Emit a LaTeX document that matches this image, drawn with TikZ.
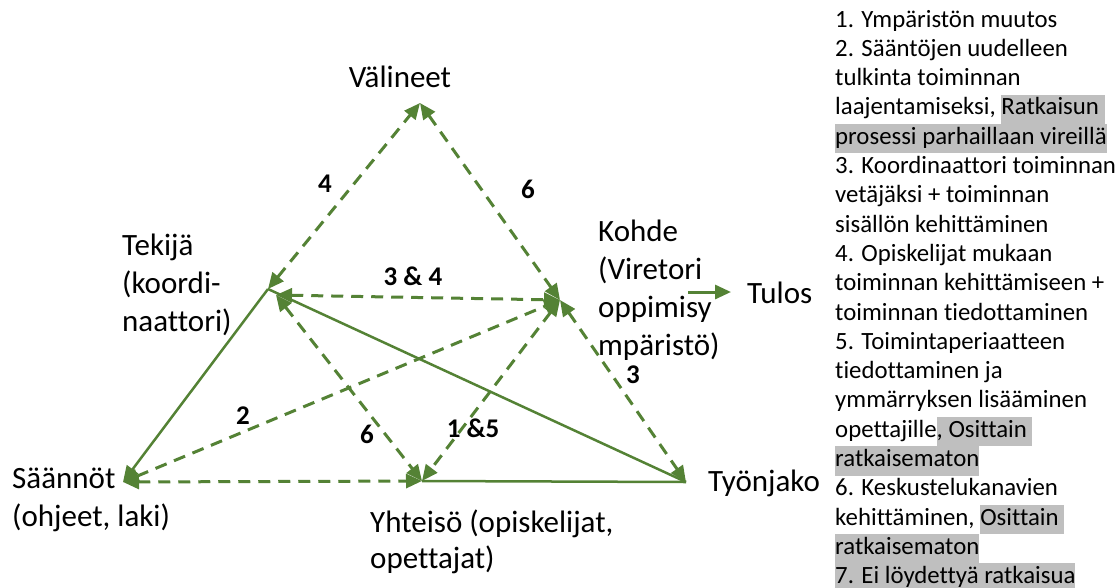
\documentclass[tikz,border=0pt]{standalone}
\usepackage{fontspec}
\setmainfont{Carlito}[Ligatures=NoCommon]
\usetikzlibrary{arrows.meta}
\definecolor{linegreen}{RGB}{84,130,53}
\definecolor{hlgray}{RGB}{191,191,191}
% grey marker behind a piece of text, one full line high
\newcommand{\hlt}[1]{{\setlength{\fboxsep}{0pt}\colorbox{hlgray}{\rule[-9pt]{0pt}{29.3pt}#1}}}
\begin{document}
\begin{tikzpicture}[x=1pt, y=-1pt,
  >={Triangle[length=16pt,width=14pt]},
  edge/.style={draw=linegreen, line width=2.5pt},
  link/.style={draw=linegreen, line width=3pt, dash pattern=on 12pt off 8pt, <->},
  lab/.style={font=\fontsize{31}{38}\selectfont, inner sep=0pt},
  num/.style={font=\fontsize{27}{32}\selectfont\bfseries, inner sep=0pt, anchor=base},
  legend/.style={font=\fontsize{24.8}{29.3}\selectfont, inner sep=0pt, anchor=base west}]
\useasboundingbox (0,0) rectangle (1116,587);

% corners of the activity system
\coordinate (V) at (420,103);
\coordinate (T) at (268,289);
\coordinate (Ta) at (276,295);
\coordinate (K) at (560,300);
\coordinate (S) at (123,482);
\coordinate (Y) at (422,481);
\coordinate (W) at (686,482);
\coordinate (out) at (688,292);
\coordinate (res) at (731,292);

% solid sides
\draw[edge, ->] (T) -- (S);
\draw[edge] (T) -- (W);
\draw[edge] (Y) -- (W);
\draw[edge, line width=3pt, ->] (out) -- (res);

% tensions between the corners
\draw[link] (T) -- (V);
\draw[link] (V) -- (K);
\draw[link] (Ta) -- (K);
\draw[link] (S) -- (K);
\draw[link] (Ta) -- (Y);
\draw[link] (K) -- (Y);
\draw[link] (K) -- (W);
\draw[link] (S) -- (Y);

% corner labels
\node[lab, anchor=base] (valineet) at (400,87) {Välineet};
\node[lab, align=left, anchor=north west] (tekija) at (122,229)
  {\rule{0pt}{26pt}Tekijä\\(koordi-\\naattori)};
\node[lab, align=left, anchor=north west] (kohde) at (598,215)
  {\rule{0pt}{26pt}Kohde\\(Viretori\\oppimisy\\mpäristö)};
\node[lab, anchor=base west] (tulos) at (747,303) {Tulos};
\node[lab, align=left, anchor=north west] (saannot) at (12,462)
  {\rule{0pt}{26pt}Säännöt\\(ohjeet, laki)};
\node[lab, align=left, anchor=north west, font=\fontsize{31}{36}\selectfont] (yhteiso) at (370,506)
  {\rule{0pt}{26pt}Yhteisö (opiskelijat,\\opettajat)};
\node[lab, anchor=base west] (tyonjako) at (708,491) {Työnjako};

% numbers of the tensions
\node[num] (n4) at (325,192) {4};
\node[num] (n6a) at (528,198) {6};
\node[num] (n34) at (413,285) {3 \& 4};
\node[num] (n2) at (243,424) {2};
\node[num] (n6b) at (367,443) {6};
\node[num] (n15) at (473,437) {1 \&5};
\node[num] (n3) at (633,383) {3};

% list of the tensions
\foreach \txt [count=\i from 0] in {
  {1. Ympäristön muutos},
  {2. Sääntöjen uudelleen},
  {tulkinta toiminnan},
  {laajentamiseksi, \hlt{Ratkaisun }},
  {\hlt{prosessi parhaillaan vireillä}},
  {3. Koordinaattori toiminnan},
  {vetäjäksi + toiminnan},
  {sisällön kehittäminen},
  {4. Opiskelijat mukaan},
  {toiminnan kehittämiseen +},
  {toiminnan tiedottaminen},
  {5. Toimintaperiaatteen},
  {tiedottaminen ja},
  {ymmärryksen lisääminen},
  {opettajille\hlt{, Osittain }},
  {\hlt{ratkaisematon}},
  {6. Keskustelukanavien},
  {kehittäminen, \hlt{Osittain }},
  {\hlt{ratkaisematon}},
  {\hlt{7. Ei löydettyä ratkaisua}}}
  \node[legend] (line\i) at (835,27+29.3*\i) {\txt};
\end{tikzpicture}
\end{document}
